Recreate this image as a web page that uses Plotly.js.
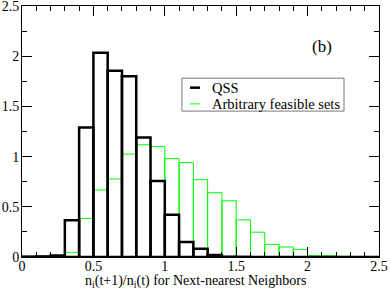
<!DOCTYPE html>
<html><head><meta charset="utf-8">
<script src="https://cdn.plot.ly/plotly-3.0.1.min.js"></script>
<style>body{margin:0;background:#fff}#plot{width:390px;height:292px}</style>
</head><body><div id="plot"></div>
<script>
const binCenters = [0.05,0.15,0.25,0.35,0.45,0.55,0.65,0.75,0.85,0.95,1.05,1.15,1.25,1.35,1.45,1.55,1.65,1.75,1.85,1.95,2.05,2.15,2.25,2.35,2.45];
const qssValues = [0.004,0.006,0.015,0.367,1.29,2.035,1.855,1.80,1.19,0.757,0.42,0.15,0.083,0.02,0.003,0.002,0,0,0,0,0,0,0,0,0];
const arbValues = [0,0,0,0.046,0.384,0.668,0.777,1.025,1.118,1.10,0.98,0.94,0.77,0.64,0.56,0.37,0.247,0.126,0.10,0.076,0.013,0.013,0.007,0.002,0];
const legendNames = ["QSS","Arbitrary feasible sets"];
const xTickVals = [0,0.5,1,1.5,2,2.5];
const xTickText = ["0","0.5","1","1.5","2","2.5"];
const yTickVals = [0,0.5,1,1.5,2,2.5];
const yTickText = ["0","0.5","1","1.5","2","2.5"];
const xTitle = "n<sub>i</sub>(t+1)/n<sub>i</sub>(t) for Next-nearest Neighbors";
const panelLabel = "(b)";

const fam = "Liberation Serif";
const mkFont = (s) => ({family:fam, size:s, color:"#000"});

const traces = [
  {type:"bar", x:binCenters, y:arbValues, width:0.1, showlegend:false,
   marker:{color:"rgba(0,0,0,0)", line:{color:"#00ff00", width:1}}, hoverinfo:"skip"},
  {type:"bar", x:binCenters, y:qssValues, width:0.1, showlegend:false,
   marker:{color:"rgba(0,0,0,0)", line:{color:"#000", width:2.5}}, hoverinfo:"skip"}
];

function axis(extra){
  return Object.assign({showgrid:false, zeroline:false, showline:true, linecolor:"#000", linewidth:1,
    mirror:"ticks", ticks:"inside", ticklen:10, tickcolor:"#000", tickwidth:1,
    tickfont:mkFont(14), ticklabeloverflow:"allow"}, extra);
}

// manual legend (paper coordinates)
const lg = {x0:0.448, x1:0.902, y0:0.5813, y1:0.7123, lx0:0.4706, lx1:0.4986, tx:0.5258, rows:[0.6746, 0.6101]};
const legendColors = ["#000", "#00ff00"];
const legendWidths = [2.5, 1];

const shapes = [{type:"rect", xref:"paper", yref:"paper", x0:lg.x0, x1:lg.x1, y0:lg.y0, y1:lg.y1,
  line:{color:"#777", width:1}, fillcolor:"#fff", layer:"above"}];
const annotations = [
  {x:2.10, y:2.095, xref:"x", yref:"y", text:panelLabel, showarrow:false, font:mkFont(17)},
  {x:0.5, y:0, xref:"paper", yref:"paper", xshift:-5, yshift:-35, yanchor:"bottom", text:xTitle,
   showarrow:false, font:mkFont(14)}
];
legendNames.forEach((n,i)=>{
  shapes.push({type:"line", xref:"paper", yref:"paper", x0:lg.lx0, x1:lg.lx1, y0:lg.rows[i], y1:lg.rows[i],
    line:{color:legendColors[i], width:legendWidths[i]}, layer:"above"});
  annotations.push({x:lg.tx, y:lg.rows[i], xref:"paper", yref:"paper", xanchor:"left", yanchor:"middle",
    text:n, showarrow:false, font:mkFont(14.5)});
});

const layout = {
  width:390, height:292, margin:{l:22, r:11, t:6, b:35},
  paper_bgcolor:"#fff", plot_bgcolor:"#fff", barmode:"overlay", font:mkFont(14), showlegend:false,
  xaxis:axis({range:[0,2.5], tickvals:xTickVals, ticktext:xTickText, ticklabelstandoff:-4,
    minor:{dtick:0.1, ticks:"inside", ticklen:5, tickcolor:"#000"}}),
  yaxis:axis({range:[0,2.5], tickvals:yTickVals, ticktext:yTickText, ticklabelstandoff:-1,
    minor:{dtick:0.25, ticks:"inside", ticklen:5, tickcolor:"#000"}}),
  shapes:shapes, annotations:annotations
};
Plotly.newPlot("plot", traces, layout, {staticPlot:true});
</script></body></html>
